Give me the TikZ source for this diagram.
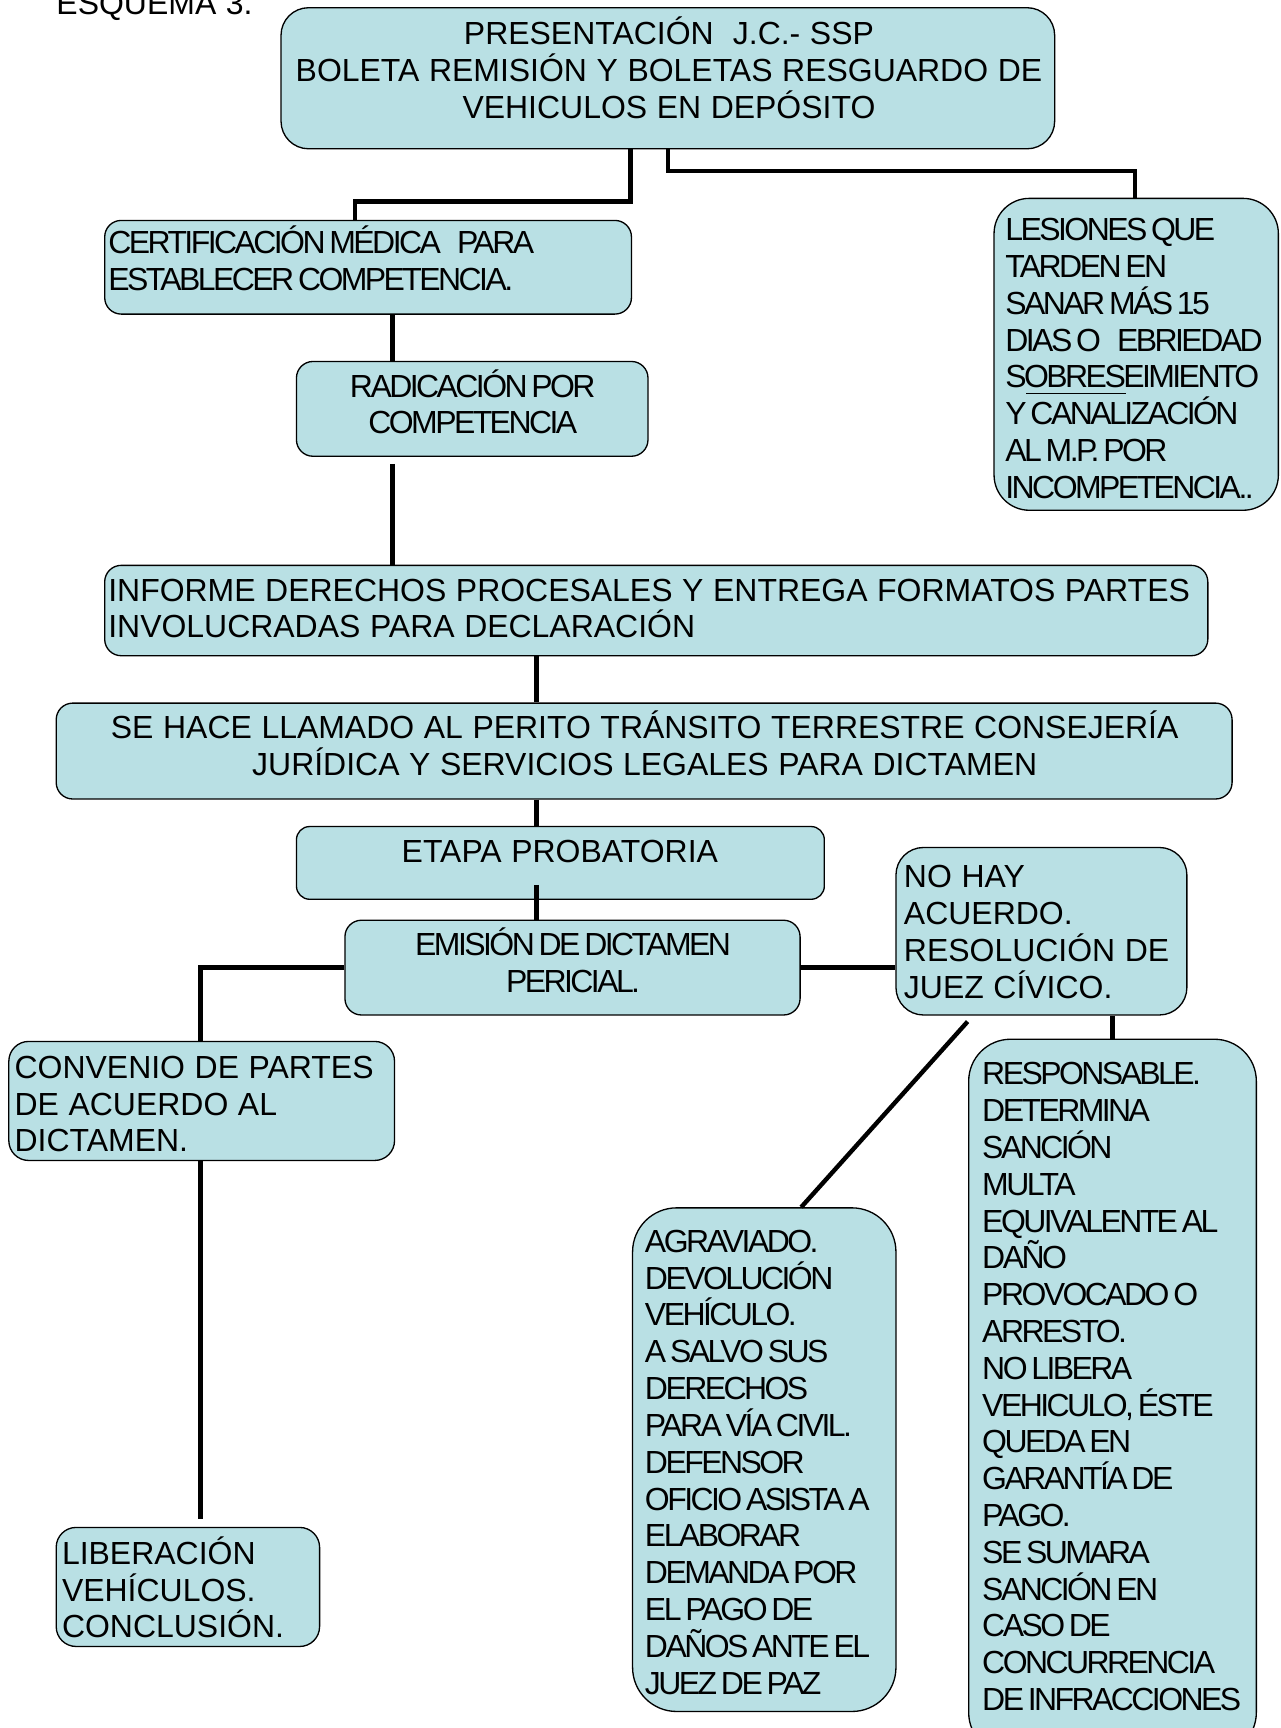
\documentclass[tikz,border=0pt]{standalone}
\usepackage{fontspec}
\setmainfont{Liberation Sans}[WordSpace=1.08]
\newfontfamily\tightfont{Liberation Sans}[LetterSpace=-8,WordSpace=0.6]
\definecolor{boxfill}{RGB}{185,224,228}

% rounded box from its corners (x1,y1)-(x2,y2) with corner radius #6
\newcommand\mkbox[6]{%
  \node[box, rounded corners={#6*0.75pt},
        minimum width={(#4-#2)*0.75pt}, minimum height={(#5-#3)*0.75pt}]
        (#1) at ({(#2+#4)/2},{(#3+#5)/2}) {};}
% wide gap used where two spaces are typed in the condensed text
\newcommand\widegap{\hspace{11pt}}

\begin{document}
\begin{tikzpicture}[x=0.75pt,y=-0.75pt,
  box/.style={draw=black, line width=0.9pt, fill=boxfill, inner sep=0pt},
  conn/.style={line width=3pt, draw=black},
  plain/.style={inner sep=0pt, text width=1000pt, align=flush left,
    font=\fontsize{21.75}{25.05}\selectfont},
  tight/.style={inner sep=0pt, text width=1000pt, align=flush left,
    font=\tightfont\fontsize{21.75}{25.05}\selectfont},
  mid/.style={align=flush center, anchor=base}]

\useasboundingbox (0,0) rectangle (1162,1568);
\clip (0,0) rectangle (1162,1568);

% heading
\node[plain, anchor=base west] (title) at (51,13) {ESQUEMA 3.};

% boxes
\mkbox{top}{255}{7}{957}{135}{25}
\mkbox{cert}{95}{200}{573}{285}{15}
\mkbox{radic}{269}{328}{588}{414}{15}
\mkbox{les}{902}{180}{1160}{463}{32}
\mkbox{inf}{95}{513}{1096}{595}{15}
\mkbox{hace}{51}{638}{1118}{725}{15}
\mkbox{etapa}{269}{750}{748}{816}{12}
\mkbox{emi}{313}{835}{726}{921}{15}
\mkbox{nohay}{813}{769}{1077}{921}{25}
\mkbox{conv}{8}{945}{358}{1053}{18}
\mkbox{lib}{51}{1386}{290}{1494}{18}
\mkbox{agr}{574}{1096}{813}{1553}{40}
\mkbox{resp}{879}{943}{1140}{1592}{38}

% junction points and free ends of connectors
\coordinate (jL) at (322,183);
\coordinate (jR) at (1030,155);
\coordinate (r1) at (356,421);
\coordinate (e1) at (487,803);
\coordinate (d1) at (878,927);
\coordinate (c1) at (182,1378);

% connectors
\draw[conn] (top.south -| 572,0) |- (jL) -- (cert.north -| jL);
\draw[conn] (top.south -| 606,0) |- (jR) -- (les.north -| jR);
\draw[conn] (cert.south -| 356,0) -- (radic.north -| 356,0);
\draw[conn] (r1) -- (inf.north -| r1);
\draw[conn] (inf.south -| 487,0) -- (hace.north -| 487,0);
\draw[conn] (hace.south -| 487,0) -- (etapa.north -| 487,0);
\draw[conn] (e1) -- (emi.north -| e1);
\draw[conn] (emi.west) -| (conv.north -| 182,0);
\draw[conn] (emi.east) -- (nohay.west |- emi.east);
\draw[conn] (d1) -- (agr.north -| 727,0);
\draw[conn] (nohay.south -| resp.north) -- (resp.north);
\draw[conn] (conv.south -| c1) -- (c1);

% texts
\node[plain, mid, text width=700pt] (ttop) at (607,40.4)
  {PRESENTACIÓN\ \ J.C.- SSP\\
   BOLETA REMISIÓN Y BOLETAS RESGUARDO DE\\
   VEHICULOS EN DEPÓSITO};
\node[tight, anchor=base west] (tcert) at (98,230.4)
  {CERTIFICACIÓN MÉDICA\widegap PARA\\ESTABLECER COMPETENCIA.};
\node[tight, mid, text width=300pt] (tradic) at (429,360.4)
  {RADICACIÓN POR\\COMPETENCIA};
\node[tight, anchor=base west] (tles) at (912,218.4)
  {LESIONES QUE\\TARDEN EN\\SANAR MÁS 15\\DIAS O\widegap EBRIEDAD\\
   SOBRESEIMIENTO\\Y CANALIZACIÓN\\AL M.P. POR\\INCOMPETENCIA..};
\draw[line width=0.9pt] (931,357) -- (1022,357);
\node[plain, anchor=base west] (tinf) at (98,545.4)
  {INFORME DERECHOS PROCESALES Y ENTREGA FORMATOS PARTES\\
   INVOLUCRADAS PARA DECLARACIÓN};
\node[plain, mid, text width=900pt] (thace) at (585,670.4)
  {SE HACE LLAMADO AL PERITO TRÁNSITO TERRESTRE CONSEJERÍA\\
   JURÍDICA Y SERVICIOS LEGALES PARA DICTAMEN};
\node[plain, mid, text width=400pt] (tetapa) at (508,782.4)
  {ETAPA PROBATORIA};
\node[tight, mid, text width=400pt] (temi) at (520,867.4)
  {EMISIÓN DE DICTAMEN\\PERICIAL.};
\node[plain, anchor=base west] (tnohay) at (820,805.4)
  {NO HAY\\ACUERDO.\\RESOLUCIÓN DE\\JUEZ CÍVICO.};
\node[plain, anchor=base west] (tconv) at (13,978.4)
  {CONVENIO DE PARTES\\DE ACUERDO AL\\DICTAMEN.};
\node[plain, anchor=base west] (tlib) at (56,1419.4)
  {LIBERACIÓN\\VEHÍCULOS.\\CONCLUSIÓN.};
\node[tight, anchor=base west] (tagr) at (585,1136.4)
  {AGRAVIADO.\\DEVOLUCIÓN\\VEHÍCULO.\\A SALVO SUS\\DERECHOS\\
   PARA VÍA CIVIL.\\DEFENSOR\\OFICIO ASISTA A\\ELABORAR\\
   DEMANDA POR\\EL PAGO DE\\DAÑOS ANTE EL\\JUEZ DE PAZ};
\node[tight, anchor=base west] (tresp) at (891,984.4)
  {RESPONSABLE.\\DETERMINA\\SANCIÓN\\MULTA\\EQUIVALENTE AL\\DAÑO\\
   PROVOCADO O\\ARRESTO.\\NO LIBERA\\VEHICULO, ÉSTE\\QUEDA EN\\
   GARANTÍA DE\\PAGO.\\SE SUMARA\\SANCIÓN EN\\CASO DE\\
   CONCURRENCIA\\DE INFRACCIONES};
\end{tikzpicture}
\end{document}
